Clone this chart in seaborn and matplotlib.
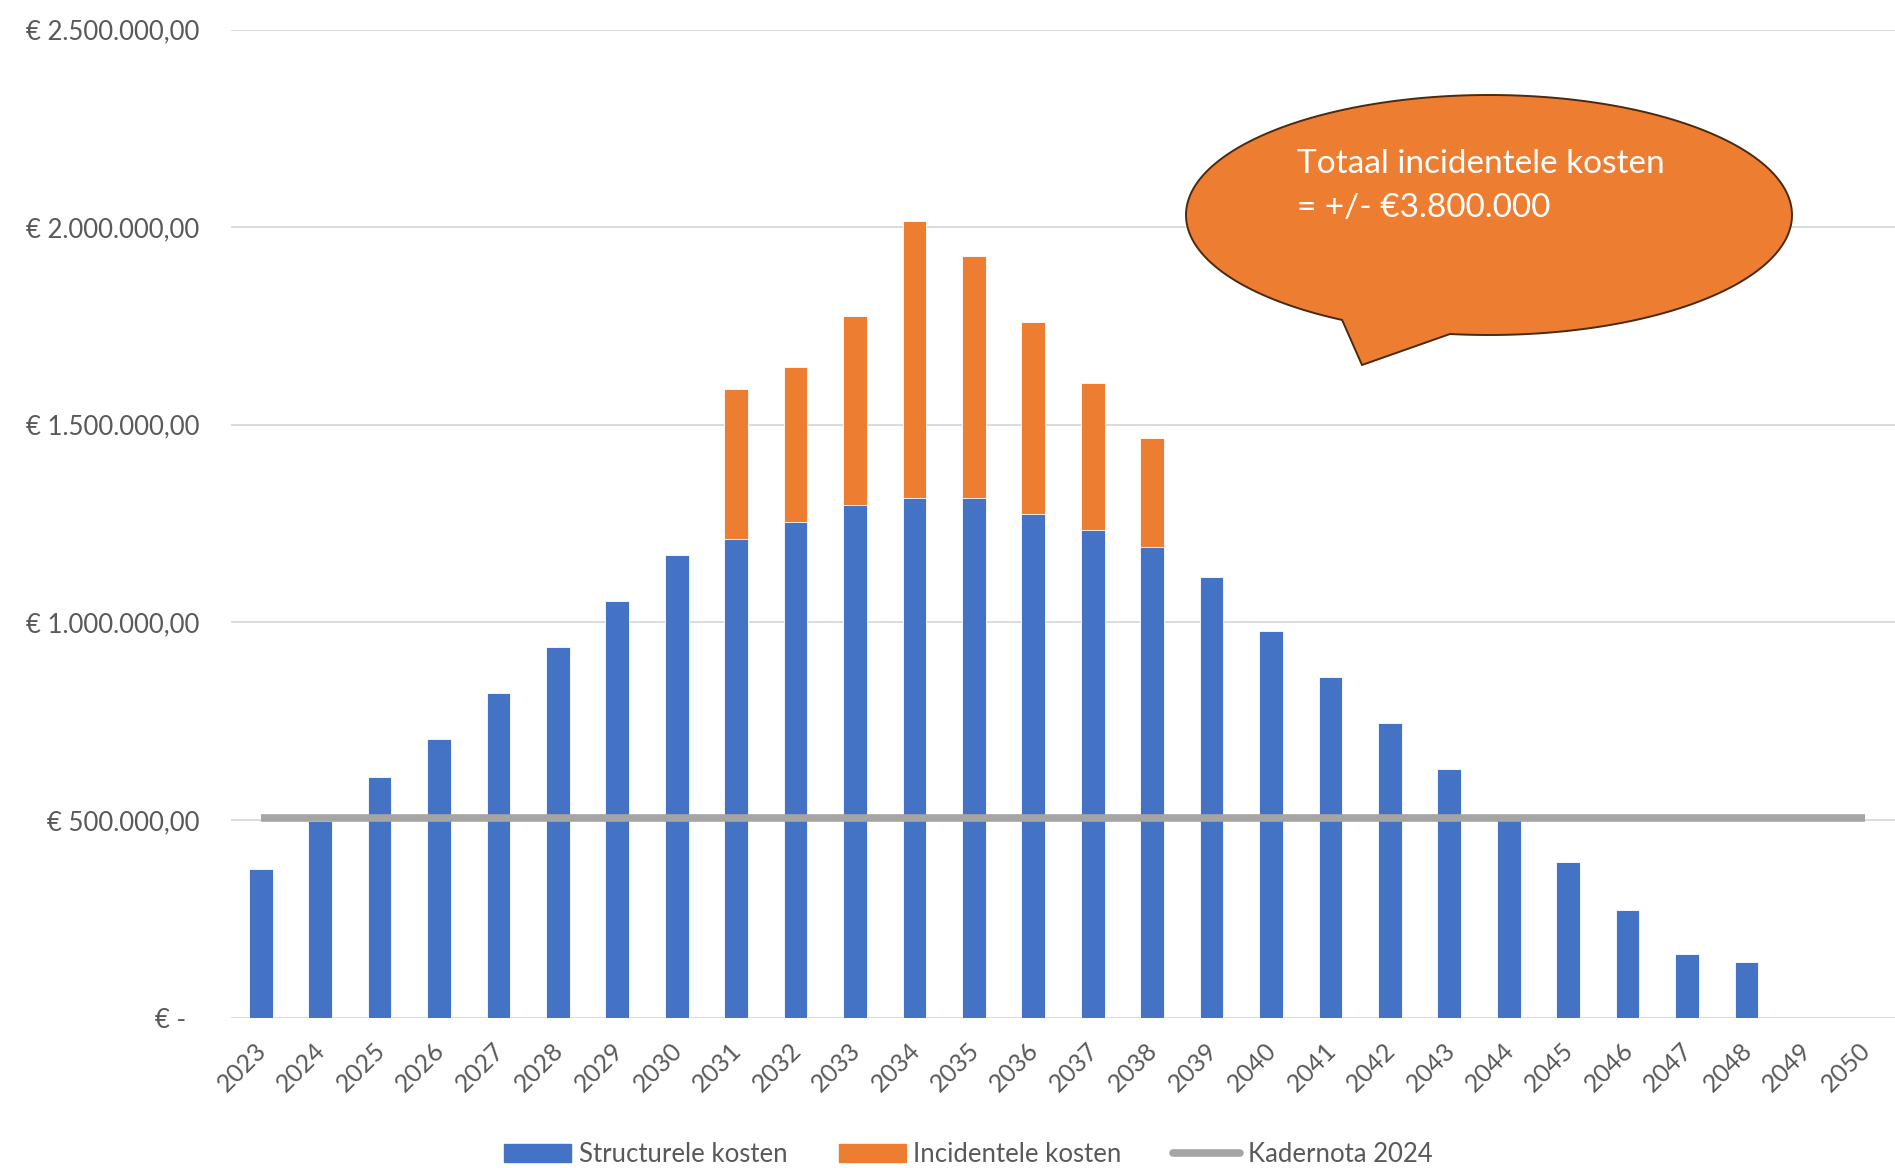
import numpy as np
import pandas as pd
import seaborn as sns
import matplotlib.pyplot as plt
import matplotlib.transforms as mtransforms
from matplotlib.patches import Patch, Polygon
from matplotlib.lines import Line2D
from matplotlib.ticker import FuncFormatter, MultipleLocator

# Gegevens
jaren = [str(j) for j in range(2023, 2051)]
structureel = [376000, 497000, 608000, 704000, 821000, 937000, 1055000, 1171000,
               1212000, 1254000, 1296000, 1315000, 1315000, 1275000, 1233000, 1191000,
               1115000, 979000, 862000, 745000, 629000, 500000, 394000, 272000,
               161000, 140000, 0, 0]
incidenteel = [0, 0, 0, 0, 0, 0, 0, 0,
               378000, 391000, 480000, 701000, 612000, 486000, 372000, 275000,
               0, 0, 0, 0, 0, 0, 0, 0,
               0, 0, 0, 0]
kadernota = [505000] * len(jaren)

BLAUW = "#4472C4"
ORANJE = "#ED7D31"
GRIJS = "#A5A5A5"
TEKST = "#595959"

sns.set_theme(style="white")
plt.rcParams["font.family"] = ["Lato", "DejaVu Sans"]

df = pd.DataFrame({"Jaar": jaren, "Structureel": structureel, "Incidenteel": incidenteel})
df["Totaal"] = df["Structureel"] + df["Incidenteel"]

W, H = 1895, 1168
fig = plt.figure(figsize=(W / 100, H / 100), dpi=100)
ax = fig.add_axes([231 / W, 1 - 1017.5 / H, 1 - 231 / W, (1017.5 - 29.5) / H])

# gestapelde staven: eerst totaal (oranje), dan structureel (blauw) eroverheen
sns.barplot(data=df, x="Jaar", y="Totaal", color=ORANJE, width=0.4, saturation=1,
            order=jaren, ax=ax, edgecolor="white", linewidth=0.6)
sns.barplot(data=df, x="Jaar", y="Structureel", color=BLAUW, width=0.4, saturation=1,
            order=jaren, ax=ax, edgecolor="white", linewidth=0.6)
sns.lineplot(x=np.arange(len(jaren)), y=kadernota, color=GRIJS, lw=5.5, ax=ax,
             solid_capstyle="butt")

ax.set_xlim(-0.5, len(jaren) - 0.5)
ax.set_ylim(0, 2500000)
ax.yaxis.set_major_locator(MultipleLocator(500000))


def euro(v, pos):
    if v == 0:
        return "€ -  "
    s = f"{v:,.2f}".replace(",", "X").replace(".", ",").replace("X", ".")
    return "€ " + s


ax.yaxis.set_major_formatter(FuncFormatter(euro))
ax.grid(axis="y", color="#D9D9D9", lw=1.3)
ax.grid(axis="x", visible=False)
ax.set_axisbelow(True)
for s in ax.spines.values():
    s.set_visible(False)
ax.set_xlabel("")
ax.set_ylabel("")
ax.tick_params(axis="y", length=0, pad=23, labelsize=18.5, labelcolor=TEKST)
ax.tick_params(axis="x", length=0, pad=15, labelsize=18, labelcolor=TEKST)
verschuif = mtransforms.ScaledTranslation(10 / 100, 0, fig.dpi_scale_trans)
for lbl in ax.get_xticklabels():
    lbl.set_rotation(45)
    lbl.set_ha("right")
    lbl.set_transform(lbl.get_transform() + verschuif)

# legenda
handles = [Patch(color=BLAUW), Patch(color=ORANJE), Line2D([], [], color=GRIJS, lw=5.5)]
fig.legend(handles, ["Structurele kosten", "Incidentele kosten", "Kadernota 2024"],
           loc="lower center", bbox_to_anchor=(0.511, -0.019), ncol=3, frameon=False,
           fontsize=18.5, labelcolor=TEKST, handlelength=2.6, handleheight=0.65,
           handletextpad=0.3, columnspacing=2.0)

# tekstballon
cx, cy, a, b = 1489, 215, 303, 120
t = np.radians(np.linspace(119, 360 + 97.4, 300))
px = list(cx + a * np.cos(t)) + [1362]
py = list(cy + b * np.sin(t)) + [365]
pts = np.column_stack([np.array(px) / W, 1 - np.array(py) / H])
fig.patches.append(Polygon(pts, closed=True, transform=fig.transFigure,
                           facecolor=ORANJE, edgecolor="#4A2A10", lw=1.4, zorder=5))
fig.text(1297 / W, 1 - 186 / H, "Totaal incidentele kosten\n= +/- €3.800.000",
         color="white", fontsize=24, ha="left", va="center", linespacing=1.6, zorder=6)

fig.savefig("out.png", dpi=100)
